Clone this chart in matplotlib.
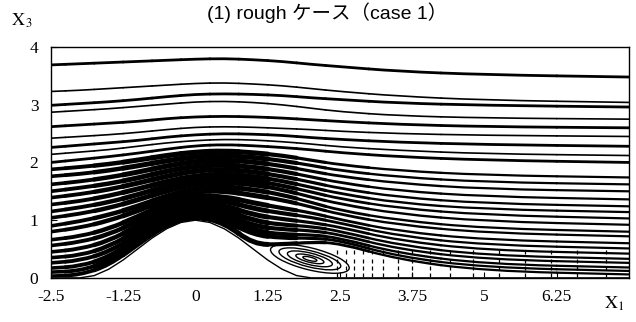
import matplotlib
matplotlib.use("Agg")
import matplotlib.pyplot as plt
from matplotlib.patches import Ellipse, PathPatch
from matplotlib.path import Path

plt.rcParams['mathtext.fontset'] = 'stix'

station_x = [-2.5, -2.0, -1.5, -1.0, -0.5, 0.0, 0.5, 1.0, 1.5, 2.0, 2.5, 3.5, 5.0, 7.5]

upper_lines = [
    [3.69, 3.71, 3.73, 3.75, 3.77, 3.79, 3.80, 3.78, 3.75, 3.70, 3.66, 3.58, 3.52, 3.48],
    [3.23, 3.25, 3.28, 3.31, 3.34, 3.37, 3.38, 3.36, 3.33, 3.28, 3.23, 3.15, 3.08, 3.04],
    [2.99, 3.02, 3.05, 3.09, 3.14, 3.18, 3.19, 3.18, 3.16, 3.12, 3.09, 3.03, 2.99, 2.96],
    [2.87, 2.90, 2.93, 2.97, 3.01, 3.05, 3.06, 3.04, 3.00, 2.94, 2.88, 2.81, 2.77, 2.75],
    [2.62, 2.65, 2.68, 2.71, 2.76, 2.79, 2.80, 2.79, 2.77, 2.74, 2.71, 2.66, 2.62, 2.60],
    [2.42, 2.45, 2.48, 2.52, 2.57, 2.61, 2.62, 2.61, 2.59, 2.57, 2.54, 2.50, 2.47, 2.45],
    [2.26, 2.30, 2.34, 2.38, 2.44, 2.48, 2.50, 2.49, 2.47, 2.43, 2.40, 2.35, 2.31, 2.28],
    [2.14, 2.18, 2.22, 2.28, 2.34, 2.38, 2.40, 2.39, 2.36, 2.32, 2.27, 2.21, 2.15, 2.12],
    [2.00, 2.05, 2.10, 2.16, 2.23, 2.29, 2.31, 2.29, 2.26, 2.22, 2.17, 2.10, 2.04, 2.00],
]

middle_lines = [
    [1.88, 1.92, 1.97, 2.04, 2.12, 2.18, 2.20, 2.17, 2.12, 2.04, 1.96, 1.86, 1.78, 1.74],
    [1.76, 1.80, 1.86, 1.94, 2.03, 2.10, 2.12, 2.09, 2.03, 1.95, 1.86, 1.75, 1.66, 1.62],
    [1.62, 1.67, 1.74, 1.83, 1.94, 2.02, 2.04, 2.01, 1.94, 1.85, 1.76, 1.64, 1.54, 1.50],
    [1.50, 1.56, 1.63, 1.73, 1.85, 1.94, 1.96, 1.92, 1.85, 1.75, 1.65, 1.51, 1.41, 1.36],
    [1.39, 1.45, 1.53, 1.64, 1.76, 1.86, 1.88, 1.84, 1.76, 1.66, 1.55, 1.40, 1.29, 1.24],
    [1.27, 1.33, 1.42, 1.54, 1.67, 1.77, 1.80, 1.76, 1.68, 1.57, 1.46, 1.30, 1.19, 1.14],
    [1.15, 1.22, 1.31, 1.44, 1.59, 1.70, 1.73, 1.69, 1.60, 1.49, 1.37, 1.21, 1.09, 1.03],
    [1.04, 1.11, 1.21, 1.35, 1.51, 1.63, 1.66, 1.62, 1.53, 1.40, 1.28, 1.11, 0.98, 0.92],
    [0.90, 0.98, 1.09, 1.24, 1.42, 1.55, 1.58, 1.53, 1.44, 1.31, 1.17, 1.00, 0.86, 0.80],
]

lower_lines = [
    [0.80, 0.87, 0.99, 1.16, 1.36, 1.50, 1.51, 1.43, 1.35, 1.23, 1.10, 0.92, 0.78, 0.72],
    [0.66, 0.72, 0.85, 1.06, 1.29, 1.42, 1.41, 1.30, 1.21, 1.13, 1.01, 0.81, 0.66, 0.60],
    [0.56, 0.62, 0.75, 0.98, 1.23, 1.36, 1.34, 1.20, 1.12, 1.05, 0.95, 0.73, 0.57, 0.51],
    [0.45, 0.50, 0.64, 0.90, 1.17, 1.30, 1.26, 1.09, 1.02, 0.96, 0.88, 0.65, 0.48, 0.42],
    [0.35, 0.39, 0.54, 0.82, 1.11, 1.25, 1.19, 0.99, 0.92, 0.89, 0.81, 0.57, 0.39, 0.33],
    [0.26, 0.30, 0.45, 0.75, 1.06, 1.20, 1.12, 0.90, 0.84, 0.82, 0.75, 0.50, 0.32, 0.26],
    [0.17, 0.20, 0.36, 0.69, 1.01, 1.15, 1.06, 0.82, 0.75, 0.75, 0.69, 0.43, 0.24, 0.18],
    [0.10, 0.12, 0.29, 0.63, 0.97, 1.11, 1.01, 0.75, 0.69, 0.69, 0.65, 0.37, 0.18, 0.12],
    [0.03, 0.05, 0.22, 0.58, 0.93, 1.07, 0.96, 0.58, 0.58, 0.62, 0.60, 0.32, 0.12, 0.06],
]

# hill profile
hill_x = [-2.5, -2.0, -1.75, -1.5, -1.25, -1.0, -0.75, -0.5, -0.25, 0.0,
          0.25, 0.5, 0.75, 1.0, 1.25, 1.5, 1.75, 2.0, 7.5]
hill_z = [0.0, 0.0, 0.04, 0.15, 0.31, 0.50, 0.69, 0.85, 0.96, 1.0,
          0.96, 0.85, 0.69, 0.50, 0.31, 0.15, 0.04, 0.0, 0.0]

# recirculation bubble behind the hill
bubble_cx, bubble_cy = 1.98, 0.33
bubble_w = [0.25, 0.50, 0.80, 1.10, 1.40]
bubble_h = [0.06, 0.12, 0.20, 0.28, 0.38]

# wake vector ticks near the floor
wake_x = [2.45, 2.6, 2.75, 2.9, 3.05, 3.25, 3.5, 3.75, 4.05, 4.4,
          4.8, 5.25, 5.7, 6.15, 6.6, 7.1]
wake_y = [0.05, 0.17, 0.30, 0.44]

xticks = [-2.5, -1.25, 0, 1.25, 2.5, 3.75, 5, 6.25]
xtick_labels = ['-2.5', '-1.25', '0', '1.25', '2.5', '3.75', '5', '6.25']
yticks = [0, 1, 2, 3, 4]

# line width along the lower streamlines (one per station)
dense_lw = [2.6, 2.8, 3.2, 3.6, 3.8, 3.8, 3.8, 3.6, 3.0, 2.3, 2.0, 1.7, 1.6, 1.6]


def draw_stream(ax, xs, ys, widths):
    # smooth curve: stations act as quadratic bezier control points
    n = len(xs)
    mids = [((xs[k] + xs[k + 1]) / 2, (ys[k] + ys[k + 1]) / 2) for k in range(n - 1)]
    pieces = [([(xs[0], ys[0]), mids[0]], [Path.MOVETO, Path.LINETO], widths[0])]
    for k in range(1, n - 1):
        pieces.append(([mids[k - 1], (xs[k], ys[k]), mids[k]],
                       [Path.MOVETO, Path.CURVE3, Path.CURVE3], widths[k]))
    pieces.append(([mids[-1], (xs[-1], ys[-1])], [Path.MOVETO, Path.LINETO], widths[-1]))
    for verts, codes, w in pieces:
        ax.add_patch(PathPatch(Path(verts, codes), fill=False, ec='black',
                               lw=w, capstyle='round', joinstyle='round'))


fig = plt.figure(figsize=(6.36, 3.22), dpi=100)
ax = fig.add_axes([0.080, 0.137, 0.909, 0.717])

for i, ys in enumerate(upper_lines):
    w = 2.0 if i % 2 == 0 else 1.2
    draw_stream(ax, station_x, ys, [w] * len(station_x))
for ys in middle_lines:
    draw_stream(ax, station_x, ys, dense_lw)
for ys in lower_lines:
    draw_stream(ax, station_x, ys, dense_lw)

for w, h in zip(bubble_w, bubble_h):
    ax.add_patch(Ellipse((bubble_cx, bubble_cy), w, h, angle=-14,
                         fill=False, ec='black', lw=1.0, zorder=2))

for wy in wake_y:
    ax.plot(wake_x, [wy] * len(wake_x), ls='none', marker='|', ms=3,
            mew=0.9, color='black')

ax.fill_between(hill_x, 0, hill_z, color='white', zorder=3)
ax.plot(hill_x, hill_z, color='black', lw=1.0, zorder=4)

ax.set_xlim(-2.5, 7.5)
ax.set_ylim(0, 4)
ax.set_xticks(xticks)
ax.set_xticklabels(xtick_labels)
ax.set_yticks(yticks)
ax.tick_params(direction='in', length=4, width=0.8, top=False, right=False)
ax.tick_params(axis='x', pad=8)
ax.tick_params(axis='y', pad=9)
for lab in ax.get_xticklabels() + ax.get_yticklabels():
    lab.set_fontfamily('Liberation Serif')
    lab.set_fontsize(12.5)
for sp in ax.spines.values():
    sp.set_linewidth(1.0)
    sp.set_zorder(5)

fig.text(0.515, 0.94, '(1) rough ケース（case 1）', ha='center', va='baseline',
         fontsize=14, family=['Liberation Sans', 'Noto Sans CJK JP'])
fig.text(0.018, 0.935, r'$\mathrm{X}_{\,3}$', fontsize=13, ha='left', va='center')
fig.text(0.950, 0.055, r'$\mathrm{X}_{1}$', fontsize=13, ha='left', va='center')

fig.savefig('out.png', dpi=100)
